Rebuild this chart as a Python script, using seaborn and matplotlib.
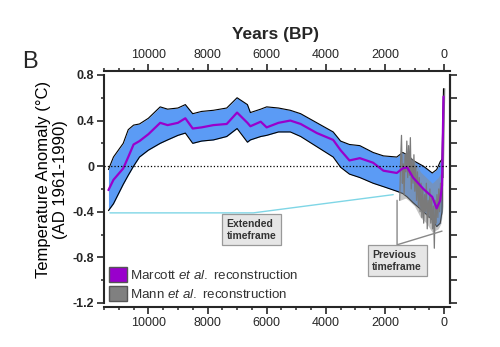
import matplotlib
matplotlib.use('Agg')
import matplotlib.pyplot as plt
import seaborn as sns
from matplotlib.patches import Patch
from matplotlib.ticker import MultipleLocator

# Marcott et al. reconstruction (years BP, anomaly degC)
marcott_years = [11350, 11180, 10850, 10680, 10500, 10300, 10000, 9600, 9350, 9000,
                 8750, 8500, 8200, 7800, 7350, 7000, 6650, 6550, 6200, 6000,
                 5600, 5200, 4850, 4300, 3750, 3500, 3200, 2850, 2400, 2050,
                 1600, 1400, 1250, 1050, 700, 400, 250, 130, 70, 20]
marcott_mean = [-0.21, -0.12, -0.02, 0.08, 0.19, 0.22, 0.28, 0.38, 0.36, 0.38,
                0.42, 0.33, 0.34, 0.36, 0.37, 0.47, 0.38, 0.35, 0.39, 0.34,
                0.38, 0.40, 0.37, 0.29, 0.23, 0.14, 0.05, 0.07, 0.03, -0.04,
                -0.06, -0.02, -0.01, -0.10, -0.20, -0.27, -0.37, -0.30, -0.17, 0.61]
marcott_hi = [-0.03, 0.08, 0.20, 0.32, 0.36, 0.37, 0.42, 0.52, 0.50, 0.51,
              0.54, 0.46, 0.48, 0.49, 0.51, 0.60, 0.54, 0.47, 0.50, 0.52,
              0.51, 0.49, 0.46, 0.38, 0.30, 0.22, 0.19, 0.18, 0.12, 0.09,
              0.08, 0.12, 0.10, 0.05, 0.00, -0.06, -0.03, 0.04, 0.06, 0.68]
marcott_lo = [-0.39, -0.33, -0.16, -0.08, 0.00, 0.08, 0.14, 0.20, 0.23, 0.27,
              0.29, 0.20, 0.22, 0.23, 0.26, 0.33, 0.21, 0.23, 0.26, 0.27,
              0.30, 0.30, 0.26, 0.17, 0.08, -0.01, -0.07, -0.10, -0.15, -0.18,
              -0.22, -0.24, -0.27, -0.32, -0.40, -0.47, -0.53, -0.50, -0.40, 0.50]

# Mann et al. reconstruction
mann_years = [1500, 1470, 1440, 1410, 1380, 1350, 1320, 1290, 1260, 1230,
              1200, 1170, 1140, 1110, 1080, 1050, 1020, 990, 960, 930,
              900, 870, 840, 810, 780, 750, 720, 690, 660, 630,
              600, 570, 540, 510, 480, 450, 420, 390, 360, 330,
              300, 270, 240, 210, 180, 150, 120, 90, 60, 30, -20]
mann_vals = [-0.30, 0.05, 0.27, -0.15, 0.02, -0.25, 0.10, -0.05, 0.22, -0.10,
             0.18, -0.08, 0.25, -0.20, 0.05, -0.15, 0.10, -0.22, 0.00, -0.30,
             -0.05, -0.35, -0.10, -0.40, -0.15, -0.45, -0.20, -0.50, -0.25, -0.40,
             -0.15, -0.55, -0.30, -0.45, -0.20, -0.50, -0.28, -0.55, -0.35, -0.72,
             -0.30, -0.50, -0.25, -0.45, -0.20, -0.40, -0.15, -0.30, 0.05, -0.10, 0.68]
mann_band_years = [1500, 1300, 1200, 1000, 800, 600, 400, 200, 100, 30]
mann_band_hi = [0.10, 0.12, 0.10, 0.05, -0.05, -0.10, -0.15, -0.10, -0.05, 0.05]
mann_band_lo = [-0.30, -0.28, -0.30, -0.35, -0.45, -0.50, -0.58, -0.55, -0.50, -0.35]

# annotation guide lines
extended_x = [11300, 6450, 1720]
extended_y = [-0.41, -0.41, -0.25]
previous_x = [1590, 1590, 70]
previous_y = [-0.30, -0.69, -0.57]

sns.set_style('ticks')
plt.rcParams['font.family'] = ['Liberation Sans', 'DejaVu Sans']
plt.rcParams['mathtext.fontset'] = 'custom'
plt.rcParams['mathtext.rm'] = 'Liberation Sans'
plt.rcParams['mathtext.it'] = 'Liberation Sans:italic'

fig = plt.figure(figsize=(5, 3.47), dpi=100)
ax = fig.add_axes([0.208, 0.127, 0.692, 0.657])

ax.fill_between(marcott_years, marcott_lo, marcott_hi, color='#5b9bf5', lw=0, zorder=1)
ax.plot(marcott_years, marcott_hi, color='black', lw=0.8, zorder=2)
ax.plot(marcott_years, marcott_lo, color='black', lw=0.8, zorder=2)
ax.fill_between(mann_band_years, mann_band_lo, mann_band_hi, color='#8c8c8c', alpha=0.5, lw=0, zorder=3)
sns.lineplot(x=mann_years, y=mann_vals, color='#7a7a7a', lw=0.9, ax=ax, zorder=4)
sns.lineplot(x=marcott_years, y=marcott_mean, color='#9900cc', lw=1.6, ax=ax, zorder=5)
ax.axhline(0, ls=':', color='black', lw=0.9, zorder=6)

ax.plot(extended_x, extended_y, color='#7fd6e6', lw=1.0, zorder=6)
ax.plot(previous_x, previous_y, color='#888888', lw=1.0, zorder=6)

box = dict(boxstyle='square,pad=0.45', fc='#e6e6e6', ec='#999999', lw=0.9)
ax.text(6520, -0.56, 'Extended\ntimeframe', ha='center', va='center', multialignment='left',
        fontsize=7.5, fontweight='bold', color='#333333', bbox=box, zorder=7)
ax.text(1590, -0.83, 'Previous\ntimeframe', ha='center', va='center', multialignment='left',
        fontsize=7.5, fontweight='bold', color='#333333', bbox=box, zorder=7)

ax.set_xlim(11500, -200)
ax.set_ylim(-1.2, 0.8)
ax.xaxis.set_major_locator(MultipleLocator(2000))
ax.xaxis.set_minor_locator(MultipleLocator(500))
ax.yaxis.set_major_locator(MultipleLocator(0.4))
ax.yaxis.set_minor_locator(MultipleLocator(0.2))
ax.yaxis.set_major_formatter(plt.FuncFormatter(lambda v, p: '0' if abs(v) < 1e-9 else f'{v:.1f}'))

ax.tick_params(axis='x', which='both', top=True, labeltop=True, bottom=True, labelbottom=True)
ax.tick_params(which='major', length=5, width=1.2, labelsize=9, pad=2)
ax.tick_params(which='minor', length=2.5, width=1.1)
ax.tick_params(axis='y', which='both', right=False)
for lab in ax.get_xticklabels() + ax.get_yticklabels():
    lab.set_fontweight('bold')

for s in ['top', 'bottom']:
    ax.spines[s].set_position(('outward', 3))
for s in ax.spines.values():
    s.set_linewidth(1.5)

ax2 = ax.twinx()
ax2.set_ylim(-1.2, 0.8)
ax2.yaxis.set_major_locator(MultipleLocator(0.2))
ax2.tick_params(axis='y', length=5, width=1.2, labelright=False)
ax2.spines['right'].set_linewidth(1.5)
for s in ['top', 'bottom', 'left']:
    ax2.spines[s].set_visible(False)

ax.set_xlabel('')
ax.set_ylabel('Temperature Anomaly (°C)\n(AD 1961-1990)', fontsize=12,
              color='black', linespacing=1.1)
ax.yaxis.set_label_coords(-0.105, 0.54)

handles = [Patch(facecolor='#9900cc', edgecolor='#555555'),
           Patch(facecolor='#808080', edgecolor='#555555')]
ax.legend(handles, [r'Marcott $\it{et\ al.}\ $reconstruction', r'Mann $\it{et\ al.}\ $reconstruction'],
          loc='lower left', bbox_to_anchor=(0.015, 0.01), frameon=False, fontsize=9.6,
          handlelength=1.35, handleheight=1.35, handletextpad=0.2, borderpad=0, borderaxespad=0,
          labelspacing=0.25, labelcolor='#333333')

fig.text(0.55, 1 - 35 / 347, 'Years (BP)', ha='center', va='center', fontsize=12.5, fontweight='bold')
fig.text(0.044, 1 - 62 / 347, 'B', ha='left', va='center', fontsize=17)

fig.savefig('out.png', dpi=100)
